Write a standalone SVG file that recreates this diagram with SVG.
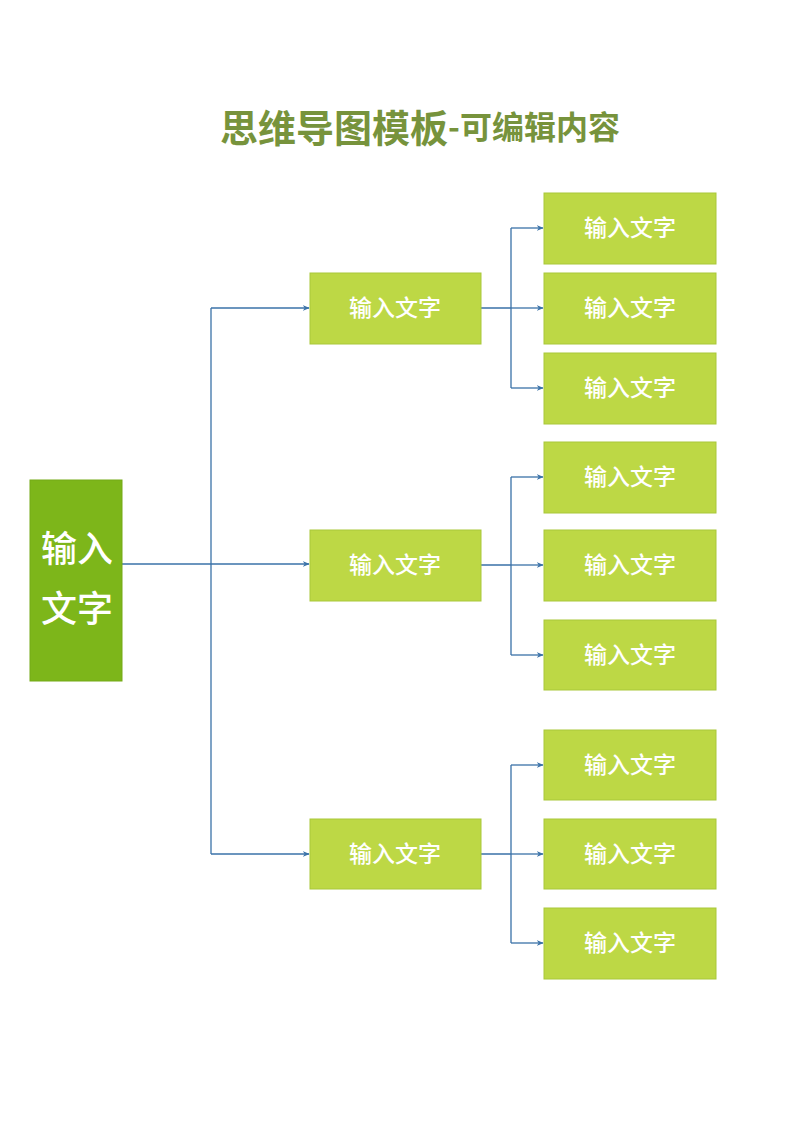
<svg xmlns="http://www.w3.org/2000/svg" width="800" height="1132" viewBox="0 0 800 1132">
<style>
.t{font-family:"Noto Sans CJK SC","Liberation Sans",sans-serif;font-weight:500;fill:#fff;text-anchor:middle;dominant-baseline:central}
.n{fill:#bdd845;stroke:#a9c83a;stroke-width:1}
.c{fill:none;stroke:#3a72a8;stroke-width:1.3}
</style>
<defs>
<marker id="a" viewBox="0 0 10 10" refX="9" refY="5" markerWidth="7" markerHeight="7" markerUnits="userSpaceOnUse" orient="auto"><path d="M0,1 L10,5 L0,9 L3,5 Z" fill="#3a72a8"/></marker>
</defs>
<rect width="800" height="1132" fill="#fff"/>
<text x="420" y="125" font-family="'Noto Sans CJK SC','Liberation Sans',sans-serif" font-weight="bold" fill="#77933c" text-anchor="middle" dominant-baseline="central"><tspan font-size="38">思维导图模板</tspan><tspan font-size="32">-可编辑内容</tspan></text>
<g id="connectors">
<path class="c" d="M122,564 H211"/>
<path class="c" d="M211,308 V854"/>
<path class="c" d="M211,308 H309" marker-end="url(#a)"/>
<path class="c" d="M211,564 H309" marker-end="url(#a)"/>
<path class="c" d="M211,854 H309" marker-end="url(#a)"/>
<path class="c" d="M481,308 H511 M511,228 V388"/>
<path class="c" d="M511,228 H543" marker-end="url(#a)"/>
<path class="c" d="M511,308 H543" marker-end="url(#a)"/>
<path class="c" d="M511,388 H543" marker-end="url(#a)"/>
<path class="c" d="M481,565 H511 M511,477 V655"/>
<path class="c" d="M511,477 H543" marker-end="url(#a)"/>
<path class="c" d="M511,565 H543" marker-end="url(#a)"/>
<path class="c" d="M511,655 H543" marker-end="url(#a)"/>
<path class="c" d="M481,854 H511 M511,765 V943"/>
<path class="c" d="M511,765 H543" marker-end="url(#a)"/>
<path class="c" d="M511,854 H543" marker-end="url(#a)"/>
<path class="c" d="M511,943 H543" marker-end="url(#a)"/>
</g>
<g id="root"><rect x="30" y="480" width="92" height="201" fill="#7db61a" stroke="#74aa16"/><text class="t" x="77" y="546" font-size="36">输入</text><text class="t" x="77" y="606" font-size="36">文字</text></g>
<g id="m1"><rect class="n" x="310" y="273" width="171" height="71"/><text class="t" x="395" y="306" font-size="23">输入文字</text></g>
<g id="m2"><rect class="n" x="310" y="530" width="171" height="71"/><text class="t" x="395" y="563" font-size="23">输入文字</text></g>
<g id="m3"><rect class="n" x="310" y="819" width="171" height="70"/><text class="t" x="395" y="852" font-size="23">输入文字</text></g>
<g id="l1"><rect class="n" x="544" y="193" width="172" height="71"/><text class="t" x="630" y="226" font-size="23">输入文字</text></g>
<g id="l2"><rect class="n" x="544" y="273" width="172" height="71"/><text class="t" x="630" y="306" font-size="23">输入文字</text></g>
<g id="l3"><rect class="n" x="544" y="353" width="172" height="71"/><text class="t" x="630" y="386" font-size="23">输入文字</text></g>
<g id="l4"><rect class="n" x="544" y="442" width="172" height="71"/><text class="t" x="630" y="475" font-size="23">输入文字</text></g>
<g id="l5"><rect class="n" x="544" y="530" width="172" height="71"/><text class="t" x="630" y="563" font-size="23">输入文字</text></g>
<g id="l6"><rect class="n" x="544" y="620" width="172" height="70"/><text class="t" x="630" y="653" font-size="23">输入文字</text></g>
<g id="l7"><rect class="n" x="544" y="730" width="172" height="70"/><text class="t" x="630" y="763" font-size="23">输入文字</text></g>
<g id="l8"><rect class="n" x="544" y="819" width="172" height="70"/><text class="t" x="630" y="852" font-size="23">输入文字</text></g>
<g id="l9"><rect class="n" x="544" y="908" width="172" height="71"/><text class="t" x="630" y="941" font-size="23">输入文字</text></g>
</svg>
